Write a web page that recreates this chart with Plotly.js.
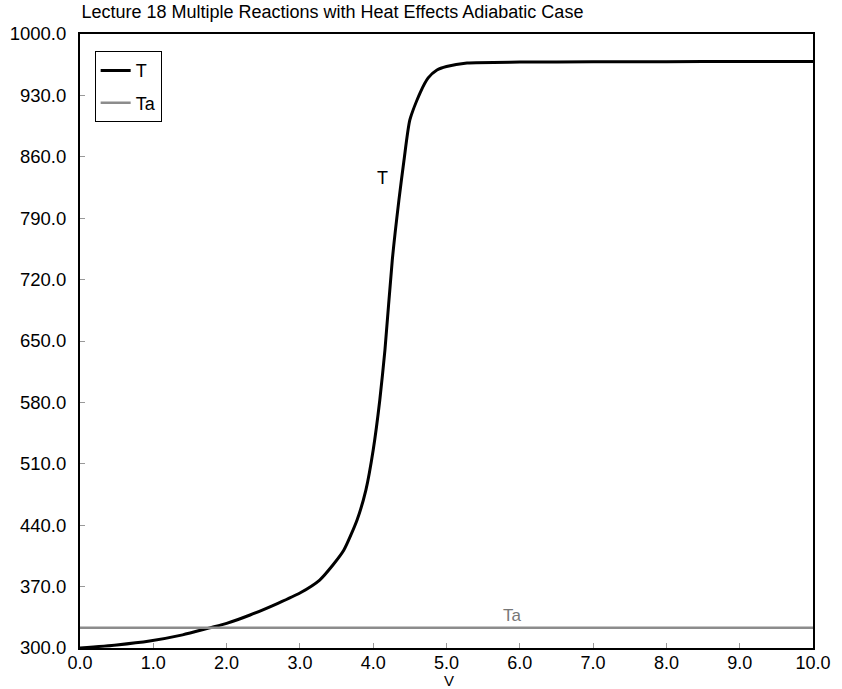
<!DOCTYPE html>
<html>
<head>
<meta charset="utf-8">
<script src="https://cdn.plot.ly/plotly-3.0.1.min.js"></script>
<style>html,body{margin:0;padding:0;background:#fff;}#chart{width:842px;height:689px;}</style>
</head>
<body>
<div id="chart"></div>
<script>
// Values
var V = [0.0, 0.5, 0.95, 1.4, 1.77, 2.0, 2.32, 2.7, 3.0, 3.27, 3.45, 3.6, 3.78, 3.9, 4.0, 4.09, 4.16, 4.26, 4.35, 4.42, 4.5, 4.64, 4.75, 4.87, 5.0, 5.28, 6.0, 7.0, 8.0, 9.0, 10.0];
var T = [300, 303.5, 308, 315, 323, 328, 337.6, 351, 362.7, 377.5, 394.6, 411.7, 446, 480, 525.7, 582.7, 639.7, 742, 810, 856, 902, 933, 950, 959, 963, 967, 968, 968.3, 968.5, 968.6, 968.6];
var Va = [0.0, 10.0];
var Ta = [323, 323];
var xTitle = 'V';

var traces = [
  {x: V, y: T, name: 'T', legendgroup: 'a', mode: 'lines', line: {color: '#000000', width: 3, shape: 'spline', smoothing: 0.6}},
  {x: Va, y: Ta, name: 'Ta', legendgroup: 'b', mode: 'lines', line: {color: '#8c8c8c', width: 2.5}}
];

var layout = {
  width: 842, height: 689,
  margin: {l: 80, r: 29, t: 34, b: 41},
  paper_bgcolor: '#ffffff', plot_bgcolor: '#ffffff',
  font: {family: 'Liberation Sans, Arial, sans-serif', size: 18, color: '#000'},
  title: {text: 'Lecture 18 Multiple Reactions with Heat Effects Adiabatic Case',
          x: 0.002, xref: 'paper', xanchor: 'left', y: 0.983, yanchor: 'middle',
          font: {size: 18, color: '#000'}},
  showlegend: true,
  legend: {x: 0.02, y: 0.972, xanchor: 'left', yanchor: 'top', bordercolor: '#000', borderwidth: 1,
           bgcolor: '#fff', font: {size: 18}, itemwidth: 30, traceorder: 'grouped', tracegroupgap: 6},
  xaxis: {range: [0, 10], tick0: 0, dtick: 1, tickformat: '.1f', showgrid: false, zeroline: false,
          showline: true, linecolor: '#000', linewidth: 2, mirror: true,
          ticks: 'inside', ticklen: 5, tickcolor: '#999', tickfont: {size: 18, color: '#000'},
          ticklabelstandoff: -3},
  yaxis: {range: [300, 1000], tick0: 300, dtick: 70, tickformat: '.1f', showgrid: false, zeroline: false,
          showline: true, linecolor: '#000', linewidth: 2, mirror: true,
          ticks: 'inside', ticklen: 5, tickcolor: '#999', tickfont: {size: 18.5, color: '#000'},
          ticklabelstandoff: 8},
  annotations: [
    {x: 4.13, y: 836, xref: 'x', yref: 'y', text: 'T', showarrow: false, font: {size: 18, color: '#000'}},
    {x: 5.9, y: 323, xref: 'x', yref: 'y', yanchor: 'bottom', yshift: 1, text: 'Ta', showarrow: false, font: {size: 17, color: '#777'}},
    {x: 5.03, y: -0.0668, xref: 'x', yref: 'paper', yanchor: 'bottom', yshift: -2, text: xTitle, showarrow: false, font: {size: 15, color: '#000'}}
  ]
};
Plotly.newPlot('chart', traces, layout, {displayModeBar: false, staticPlot: true});
</script>
</body>
</html>
